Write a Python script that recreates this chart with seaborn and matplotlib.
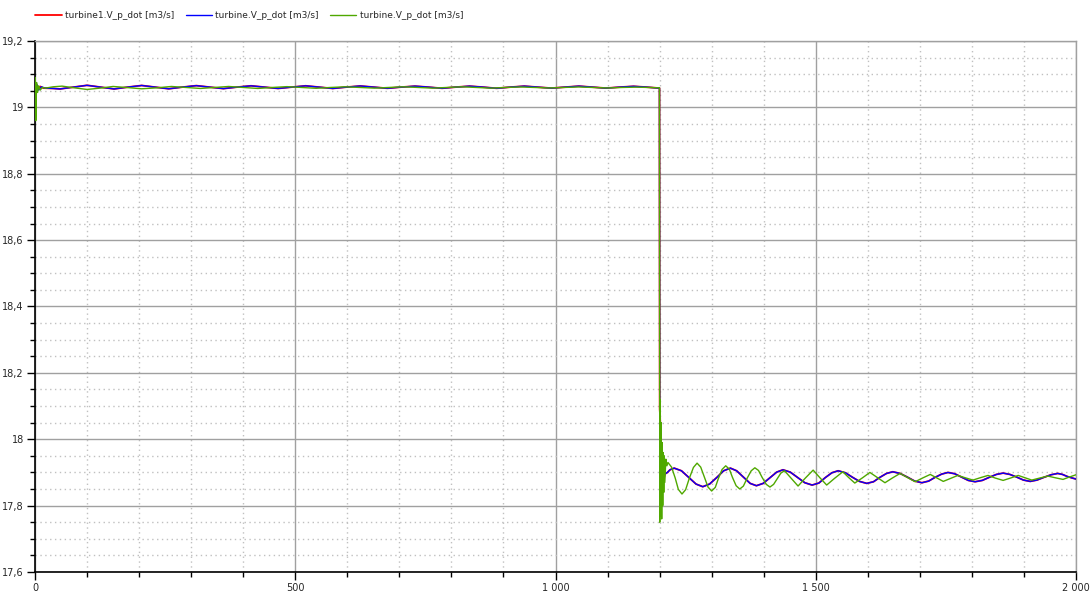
import matplotlib
matplotlib.use("Agg")
import matplotlib.pyplot as plt
import numpy as np
import pandas as pd
import seaborn as sns
from matplotlib.ticker import FuncFormatter, MultipleLocator

# --- data (time [s], flow [m3/s]) ---
t_blue = [0, 2, 4, 7, 12, 20, 35, 48, 74, 100, 126, 152, 178, 205, 231, 257, 283, 310,
          336, 362, 388, 415, 441, 467, 493, 520, 546, 572, 598, 625, 651, 677, 703, 730,
          756, 782, 808, 835, 861, 887, 913, 940, 966, 992, 1018, 1045, 1071, 1097, 1123,
          1150, 1175, 1199.8,
          1200.2, 1201, 1202, 1203.5, 1205, 1207, 1210, 1215, 1220, 1228, 1242, 1256, 1270,
          1283, 1296, 1310, 1323, 1336, 1348, 1361, 1374, 1386, 1399, 1412, 1425, 1437,
          1451, 1465, 1479, 1493, 1506, 1518, 1531, 1543, 1557, 1570, 1584, 1598, 1611,
          1623, 1636, 1648, 1662, 1676, 1690, 1704, 1717, 1729, 1742, 1754, 1767, 1780,
          1793, 1806, 1820, 1833, 1847, 1860, 1873, 1886, 1899, 1912, 1925, 1938, 1952,
          1965, 1974, 1983, 1991, 2000]
v_blue = [19.070, 19.045, 19.068, 19.052, 19.062, 19.058, 19.057, 19.0555, 19.061, 19.0665,
          19.061, 19.0555, 19.061, 19.066, 19.061, 19.056, 19.061, 19.0655, 19.061, 19.0565,
          19.061, 19.065, 19.061, 19.057, 19.061, 19.065, 19.061, 19.057, 19.061, 19.0645,
          19.061, 19.0575, 19.061, 19.064, 19.061, 19.0575, 19.061, 19.064, 19.061, 19.0575,
          19.061, 19.064, 19.061, 19.058, 19.061, 19.064, 19.061, 19.058, 19.061, 19.0635,
          19.061, 19.058,
          18.090, 18.070, 17.950, 17.840, 17.900, 17.870, 17.895, 17.900, 17.908, 17.913,
          17.905, 17.885, 17.865, 17.857, 17.865, 17.885, 17.905, 17.913, 17.905, 17.886,
          17.867, 17.860, 17.867, 17.884, 17.901, 17.908, 17.901, 17.885, 17.869, 17.862,
          17.868, 17.884, 17.899, 17.905, 17.899, 17.886, 17.873, 17.867, 17.872, 17.885,
          17.897, 17.902, 17.897, 17.886, 17.874, 17.869, 17.874, 17.885, 17.895, 17.900,
          17.896, 17.886, 17.876, 17.872, 17.876, 17.885, 17.894, 17.898, 17.894, 17.886,
          17.877, 17.873, 17.877, 17.885, 17.893, 17.897, 17.894, 17.888, 17.884, 17.880]

# red follows blue closely, only its start-up differs
t_red_start = [0, 1, 3, 6, 10, 16]
v_red_start = [19.060, 19.030, 19.068, 19.055, 19.063, 19.058]

t_green = [0, 0.5, 1.5, 3, 5, 7, 10, 14, 20, 35, 52, 75, 100, 125, 150, 175, 205, 235, 262,
           290, 318, 345, 372, 400, 428, 456, 484, 512, 540, 568, 596, 624, 652, 680, 708,
           736, 764, 792, 820, 848, 876, 904, 932, 960, 988, 1016, 1044, 1072, 1100, 1128,
           1156, 1180, 1199.8,
           1200.3, 1201, 1202, 1203, 1204, 1205, 1206, 1207, 1208, 1209, 1210, 1212, 1214,
           1216, 1223, 1230, 1236, 1243, 1250, 1257, 1265, 1272, 1279, 1286, 1293, 1300,
           1307, 1313, 1320, 1327, 1334, 1340, 1347, 1354, 1361, 1368, 1376, 1383, 1390,
           1397, 1405, 1412, 1419, 1426, 1433, 1440, 1453, 1466, 1480, 1495, 1508, 1521,
           1536, 1552, 1563, 1575, 1590, 1604, 1618, 1633, 1647, 1662, 1676, 1691, 1705,
           1720, 1732, 1745, 1759, 1773, 1787, 1802, 1816, 1831, 1845, 1860, 1874, 1889,
           1902, 1915, 1930, 1946, 1960, 1975, 1987, 2000]
v_green = [19.000, 19.090, 18.960, 19.075, 19.045, 19.065, 19.052, 19.060, 19.058, 19.062,
           19.064, 19.059, 19.054, 19.058, 19.063, 19.060, 19.056, 19.059, 19.063, 19.060,
           19.057, 19.060, 19.063, 19.060, 19.057, 19.060, 19.0625, 19.060, 19.0575, 19.060,
           19.062, 19.060, 19.058, 19.060, 19.062, 19.060, 19.058, 19.060, 19.062, 19.060,
           19.058, 19.060, 19.0615, 19.060, 19.0585, 19.060, 19.0615, 19.060, 19.0585,
           19.060, 19.061, 19.060, 19.059,
           17.750, 18.120, 17.770, 18.050, 17.760, 17.990, 17.800, 17.960, 17.840, 17.950,
           17.870, 17.940, 17.920,
           17.930, 17.916, 17.883, 17.849, 17.835, 17.848, 17.882, 17.915, 17.928, 17.916,
           17.886, 17.856, 17.844, 17.855, 17.882, 17.909, 17.920, 17.910, 17.885, 17.860,
           17.850, 17.859, 17.882, 17.905, 17.914, 17.906, 17.885, 17.864, 17.856, 17.864,
           17.881, 17.898, 17.905, 17.882, 17.859, 17.883, 17.907, 17.884, 17.862, 17.882,
           17.902, 17.885, 17.868, 17.884, 17.900, 17.885, 17.869, 17.883, 17.897, 17.885,
           17.872, 17.883, 17.894, 17.884, 17.873, 17.882, 17.891, 17.884, 17.877, 17.884,
           17.891, 17.883, 17.876, 17.883, 17.891, 17.884, 17.877, 17.883, 17.889, 17.884,
           17.879, 17.886, 17.893]

labels = ["turbine1.V_p_dot [m3/s]", "turbine.V_p_dot [m3/s]", "turbine.V_p_dot [m3/s]"]
colors = ["#ff0000", "#0000ff", "#4fa800"]

n_skip = 6  # blue points replaced by red start-up
t_red = t_red_start + t_blue[n_skip:]
v_red = v_red_start + v_blue[n_skip:]

sns.set_style("white")
plt.rcParams["font.family"] = ["DejaVu Sans"]

fig = plt.figure(figsize=(10.91, 5.96), dpi=100)
ax = fig.add_axes([35 / 1091, 1 - 572 / 596, 1041 / 1091, 531 / 596])

sns.lineplot(x=t_red, y=v_red, ax=ax, color=colors[0], lw=1.3, estimator=None,
             sort=False, label=labels[0], zorder=3)
sns.lineplot(x=t_blue, y=v_blue, ax=ax, color=colors[1], lw=1.0, estimator=None,
             sort=False, label=labels[1], zorder=4)
sns.lineplot(x=t_green, y=v_green, ax=ax, color=colors[2], lw=1.0, estimator=None,
             sort=False, label=labels[2], zorder=5)

ax.set_xlim(0, 2000)
ax.set_ylim(17.6, 19.2)
ax.xaxis.set_major_locator(MultipleLocator(500))
ax.xaxis.set_minor_locator(MultipleLocator(100))
ax.yaxis.set_major_locator(MultipleLocator(0.2))
ax.yaxis.set_minor_locator(MultipleLocator(0.05))

ax.xaxis.set_major_formatter(FuncFormatter(
    lambda v, p: f"{int(round(v)):,}".replace(",", " ")))
ax.yaxis.set_major_formatter(FuncFormatter(
    lambda v, p: f"{round(v, 2):g}".replace(".", ",")))

ax.grid(which="major", color="#a0a0a0", lw=1.0, ls="-")
ax.grid(which="minor", color="#c0c0c0", lw=1.0, ls=(0, (1, 2.5)))
ax.set_axisbelow(True)

for side in ["top", "right"]:
    ax.spines[side].set_color("#a0a0a0")
    ax.spines[side].set_linewidth(1.0)
for side in ["left", "bottom"]:
    ax.spines[side].set_color("black")
    ax.spines[side].set_linewidth(1.2)

ax.tick_params(which="major", direction="out", length=5.5, width=1, color="black",
               labelsize=7, pad=2.5, left=True, bottom=True)
ax.tick_params(which="minor", direction="out", length=3.5, width=1, color="black",
               left=True, bottom=True)
ax.set_xlabel("")
ax.set_ylabel("")

ax.legend_.remove()
handles, labs = ax.get_legend_handles_labels()
fig.legend(handles, labs, loc="upper left", bbox_to_anchor=(0.025, 0.995), ncol=3,
           frameon=False, fontsize=6.5, handlelength=2.9, handletextpad=0.35,
           columnspacing=1.3)

fig.savefig("out.png", dpi=100)
